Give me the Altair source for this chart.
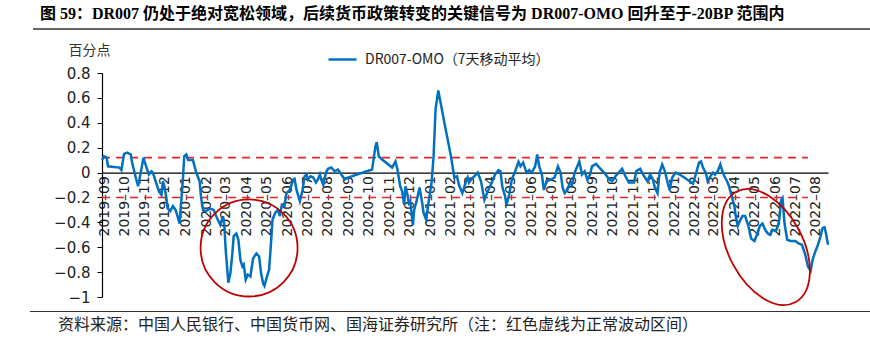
import altair as alt
import pandas as pd

title_text = "图 59：DR007 仍处于绝对宽松领域，后续货币政策转变的关键信号为 DR007-OMO 回升至于-20BP 范围内"
source_text = "资料来源：中国人民银行、中国货币网、国海证券研究所（注：红色虚线为正常波动区间）"
series_name = "DR007-OMO（7天移动平均）"
y_title = "百分点"

dates = [
    "2019-08-29", "2019-09-01", "2019-09-05", "2019-09-07", "2019-09-16", "2019-09-24", "2019-09-27",
    "2019-10-01", "2019-10-06", "2019-10-11", "2019-10-13", "2019-10-18", "2019-10-22", "2019-10-26", "2019-10-30",
    "2019-11-03", "2019-11-07", "2019-11-11", "2019-11-13", "2019-11-18", "2019-11-22", "2019-11-26", "2019-11-28", "2019-11-30",
    "2019-12-03", "2019-12-05", "2019-12-09", "2019-12-13", "2019-12-17", "2019-12-20", "2019-12-23", "2019-12-25", "2019-12-28", "2019-12-30",
    "2020-01-02", "2020-01-05", "2020-01-12", "2020-01-17", "2020-01-22", "2020-01-24", "2020-01-27", "2020-01-31",
    "2020-02-07", "2020-02-12", "2020-02-17", "2020-02-22", "2020-02-26", "2020-02-28",
    "2020-03-01", "2020-03-05", "2020-03-08", "2020-03-11", "2020-03-13", "2020-03-17", "2020-03-20", "2020-03-23", "2020-03-26", "2020-03-28", "2020-03-31",
    "2020-04-03", "2020-04-07", "2020-04-11", "2020-04-16", "2020-04-20", "2020-04-23", "2020-04-26", "2020-04-28",
    "2020-05-01", "2020-05-05", "2020-05-08", "2020-05-10", "2020-05-14", "2020-05-18", "2020-05-21", "2020-05-24", "2020-05-28", "2020-05-31",
    "2020-06-05", "2020-06-10", "2020-06-12", "2020-06-15", "2020-06-20", "2020-06-24", "2020-06-27", "2020-06-30",
    "2020-07-02", "2020-07-06", "2020-07-10", "2020-07-14", "2020-07-17", "2020-07-20", "2020-07-22", "2020-07-25", "2020-07-29",
    "2020-08-01", "2020-08-06", "2020-08-11", "2020-08-16", "2020-08-21", "2020-08-26", "2020-08-31",
    "2020-09-28", "2020-10-06", "2020-10-11", "2020-10-13", "2020-10-16", "2020-10-21",
    "2020-11-05", "2020-11-10", "2020-11-13", "2020-11-17", "2020-11-20", "2020-11-23", "2020-11-25", "2020-11-28", "2020-11-30",
    "2020-12-02", "2020-12-06", "2020-12-08", "2020-12-12", "2020-12-16", "2020-12-20", "2020-12-22", "2020-12-26", "2020-12-30",
    "2021-01-03", "2021-01-06", "2021-01-09", "2021-01-13", "2021-01-24",
    "2021-02-01", "2021-02-06", "2021-02-10", "2021-02-13", "2021-02-18", "2021-02-23", "2021-02-26", "2021-02-28",
    "2021-03-04", "2021-03-08", "2021-03-13", "2021-03-18", "2021-03-23", "2021-03-28",
    "2021-04-03", "2021-04-08", "2021-04-13", "2021-04-16", "2021-04-19", "2021-04-23", "2021-04-25", "2021-04-29",
    "2021-05-03", "2021-05-08", "2021-05-13", "2021-05-16", "2021-05-20", "2021-05-25", "2021-05-29",
    "2021-06-02", "2021-06-07", "2021-06-10", "2021-06-13", "2021-06-17", "2021-06-20", "2021-06-24", "2021-06-30",
    "2021-07-06", "2021-07-11", "2021-07-15", "2021-07-18", "2021-07-21", "2021-07-25", "2021-07-29",
    "2021-08-01", "2021-08-05", "2021-08-09", "2021-08-12", "2021-08-16", "2021-08-20", "2021-08-24", "2021-08-28", "2021-08-31",
    "2021-09-06", "2021-09-11", "2021-09-18", "2021-09-26", "2021-09-30",
    "2021-10-05", "2021-10-10", "2021-10-15", "2021-10-20", "2021-10-25",
    "2021-11-02", "2021-11-05", "2021-11-11", "2021-11-17", "2021-11-22", "2021-11-26", "2021-11-30",
    "2021-12-03", "2021-12-07", "2021-12-10", "2021-12-14", "2021-12-18", "2021-12-22", "2021-12-25", "2021-12-29",
    "2022-01-03", "2022-01-09", "2022-01-16", "2022-01-24", "2022-01-29",
    "2022-02-03", "2022-02-07", "2022-02-10", "2022-02-13", "2022-02-17", "2022-02-20", "2022-02-24", "2022-02-28",
    "2022-03-03", "2022-03-07", "2022-03-11", "2022-03-14", "2022-03-17", "2022-03-21", "2022-03-24", "2022-03-28",
    "2022-04-01", "2022-04-03", "2022-04-06", "2022-04-10", "2022-04-13", "2022-04-17", "2022-04-22", "2022-04-26",
    "2022-05-01", "2022-05-04", "2022-05-09", "2022-05-13", "2022-05-17", "2022-05-21", "2022-05-24", "2022-05-28",
    "2022-06-02", "2022-06-05", "2022-06-07", "2022-06-10", "2022-06-12", "2022-06-15", "2022-06-19", "2022-06-24",
    "2022-07-01", "2022-07-06", "2022-07-11", "2022-07-16", "2022-07-20", "2022-07-24", "2022-07-27", "2022-07-31",
    "2022-08-04", "2022-08-08", "2022-08-11", "2022-08-14", "2022-08-16", "2022-08-19",
]

values = [
    0.10, 0.13, 0.12, 0.05, 0.045, 0.04, 0.02,
    0.15, 0.16, 0.145, 0.08, -0.03, -0.11, 0.0, 0.12,
    0.05, -0.015, 0.01, 0.0, -0.08, -0.15, -0.18, -0.07, -0.10,
    -0.19, -0.285, -0.31, -0.27, -0.30, -0.35, -0.41, -0.27, -0.056, 0.13,
    0.145, 0.10, 0.10, 0.0, -0.07, -0.19, -0.30, -0.31,
    -0.29, -0.30, -0.365, -0.42, -0.35, -0.42,
    -0.62, -0.885, -0.81, -0.65, -0.51, -0.49, -0.54, -0.70, -0.755, -0.74, -0.86,
    -0.82, -0.835, -0.69, -0.65, -0.675, -0.81, -0.89, -0.91,
    -0.85, -0.78, -0.55, -0.38, -0.325, -0.30, -0.35, -0.26, -0.27, -0.165,
    -0.14, -0.056, -0.05, -0.14, -0.23, -0.14, -0.03, -0.016,
    -0.056, -0.03, -0.04, -0.08, -0.056, -0.016, -0.056, -0.10, 0.0,
    0.03, 0.04, 0.01, 0.024, -0.016, -0.056, -0.04,
    0.01, 0.024, 0.21, 0.245, 0.13, 0.105,
    0.04, 0.09, 0.024, -0.11, -0.15, -0.26, -0.11, -0.18, -0.245,
    -0.23, -0.42, -0.30, -0.22, -0.12, -0.245, -0.325, -0.38, -0.22,
    -0.08, 0.13, 0.51, 0.66, 0.35,
    0.13, -0.04, -0.03, -0.10, -0.165, -0.08, -0.04, -0.08,
    -0.05, -0.03, 0.0, -0.07, -0.22, -0.15,
    -0.08, -0.016, 0.02, 0.01, -0.12, -0.19, -0.26, -0.18,
    -0.056, 0.01, 0.086, 0.05, 0.08, 0.0, 0.02,
    0.0, 0.05, 0.145, 0.05, -0.016, -0.14, -0.07, -0.056,
    -0.04, 0.05, 0.0, -0.12, -0.165, -0.14, -0.08,
    -0.10, 0.0, 0.05, 0.09, -0.016, 0.01, -0.056, -0.016, 0.05,
    0.07, 0.04, 0.0, -0.056, -0.07,
    -0.03, 0.0, 0.03, -0.03, -0.08,
    -0.08, 0.01, 0.03, -0.03, -0.07, -0.016, -0.056,
    -0.12, -0.165, 0.0, 0.065, 0.01, -0.08, -0.14, -0.04,
    0.0, -0.016, -0.04, -0.07, -0.09,
    0.0, 0.08, 0.09, 0.04, 0.0, -0.07, -0.03, 0.0,
    -0.016, 0.01, 0.065, 0.01, -0.03, -0.07, -0.11, -0.19,
    -0.27, -0.35, -0.43, -0.38, -0.35, -0.35, -0.43, -0.53,
    -0.55, -0.51, -0.43, -0.41, -0.46, -0.49, -0.50, -0.46,
    -0.47, -0.43, -0.38, -0.22, -0.205, -0.41, -0.54, -0.55,
    -0.55, -0.57, -0.58, -0.66, -0.755, -0.79, -0.70, -0.635,
    -0.58, -0.51, -0.445, -0.44, -0.49, -0.58,
]

band_levels = [0.12, -0.20]
band_start = "2019-08-29"
band_end = "2022-07-20"

y_ticks = [-1, -0.8, -0.6, -0.4, -0.2, 0, 0.2, 0.4, 0.6, 0.8]

circle_dates = ["2020-04-05"]
circle_values = [-0.606]
ellipse_dates = ["2022-05-18"]
ellipse_values = [-0.598]

W, H = 726, 224
Y_MIN, Y_MAX = -1.0, 0.8

df = pd.DataFrame({"date": pd.to_datetime(dates), "value": values, "series": series_name})
band_df = pd.DataFrame({
    "date": pd.to_datetime([band_start] * len(band_levels)),
    "date2": pd.to_datetime([band_end] * len(band_levels)),
    "value": band_levels,
})
circle_df = pd.DataFrame({"date": pd.to_datetime(circle_dates), "value": circle_values})
ellipse_df = pd.DataFrame({"date": pd.to_datetime(ellipse_dates), "value": ellipse_values})

x_axis = alt.Axis(
    format="%Y–%m",
    tickCount={"interval": "month", "step": 1},
    labelAngle=270, labelAlign="right", labelBaseline="middle", labelPadding=3,
    labelFont="DejaVu Sans", labelFontSize=14, labelColor="#222",
    labelOverlap=False, labelFlush=False,
    offset=-H * (0 - Y_MIN) / (Y_MAX - Y_MIN),
    domainColor="black", domainWidth=1.2, ticks=False, grid=False, title=None,
)
y_axis = alt.Axis(
    values=y_ticks, format="~g",
    labelFont="DejaVu Sans", labelFontSize=15, labelColor="#222", labelPadding=7,
    tickSize=5, tickColor="black", domainColor="black", domainWidth=1.2, grid=False,
    title=y_title, titleAngle=0, titleX=-13, titleY=-23, titleAlign="center",
    titleBaseline="middle", titleFont="Noto Sans CJK SC", titleFontSize=14,
    titleFontWeight="normal", titleColor="#333",
)

x_enc = alt.X("date:T", axis=x_axis)
y_enc = alt.Y("value:Q", scale=alt.Scale(domain=[Y_MIN, Y_MAX], nice=False, zero=False), axis=y_axis)

bands = alt.Chart(band_df).mark_rule(color="#E2262A", strokeDash=[8, 6], strokeWidth=1.6).encode(
    x=x_enc, x2="date2:T", y=y_enc
)

line = alt.Chart(df).mark_line(strokeWidth=2.5).encode(
    x=x_enc, y=y_enc,
    color=alt.Color(
        "series:N", scale=alt.Scale(range=["#0070C0"]),
        legend=alt.Legend(
            orient="none", legendX=225, legendY=-29, title=None, symbolType="stroke",
            symbolSize=784, symbolStrokeWidth=2.5, labelFont="Noto Sans CJK SC",
            labelFontSize=14, labelColor="#222", labelOffset=7, padding=0, labelLimit=0,
        ),
    ),
)

circle = alt.Chart(circle_df).mark_point(
    shape="circle", size=9409, filled=False, stroke="#C00000", strokeWidth=1.8, opacity=1
).encode(x=x_enc, y=y_enc)

# unit ellipse (semi-axes 1 and 0.594) drawn with cubic Bezier arcs
ellipse_path = (
    "M1,0 C1,0.328 0.552,0.594 0,0.594 C-0.552,0.594 -1,0.328 -1,0 "
    "C-1,-0.328 -0.552,-0.594 0,-0.594 C0.552,-0.594 1,-0.328 1,0 Z"
)
ellipse = alt.Chart(ellipse_df).mark_point(
    shape=ellipse_path, size=15675, angle=62, filled=True, fill="#ffffff", fillOpacity=0,
    stroke="#C00000", strokeWidth=1.8, opacity=1
).encode(x=x_enc, y=y_enc)

title_mark = alt.Chart(pd.DataFrame({"t": [title_text]})).mark_text(
    align="left", baseline="middle", font="Liberation Serif, Noto Sans CJK SC",
    fontSize=16, fontWeight="bold", color="black"
).encode(x=alt.value(-62), y=alt.value(-59), text="t:N")

source_mark = alt.Chart(pd.DataFrame({"t": [source_text]})).mark_text(
    align="left", baseline="middle", font="Noto Sans CJK SC",
    fontSize=16, color="#222"
).encode(x=alt.value(-44), y=alt.value(252), text="t:N")

top_rule = alt.Chart(pd.DataFrame({"k": [0]})).mark_rule(color="#333", strokeWidth=1.5).encode(
    x=alt.value(-69), x2=alt.value(768), y=alt.value(-44)
)
bottom_rule = alt.Chart(pd.DataFrame({"k": [0]})).mark_rule(color="#333", strokeWidth=1.2).encode(
    x=alt.value(-72), x2=alt.value(768), y=alt.value(238.5)
)

chart = alt.layer(
    bands, line, title_mark, source_mark, top_rule, bottom_rule, circle, ellipse
).properties(
    width=W, height=H,
    autosize=alt.AutoSizeParams(type="none"),
    padding={"left": 102, "top": 73, "right": 42, "bottom": 48},
    background="white",
).configure_view(stroke=None)

chart.save("out.html", embed_options={"renderer": "svg", "actions": False})
